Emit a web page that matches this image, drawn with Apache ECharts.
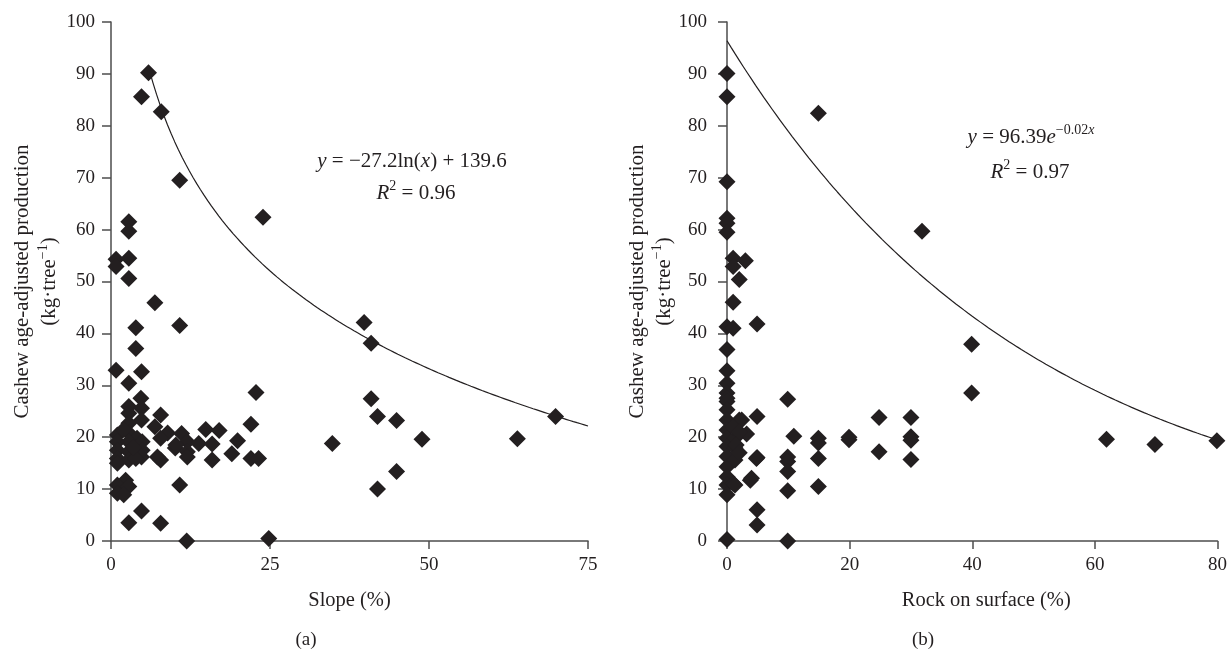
<!DOCTYPE html>
<html>
<head>
<meta charset="utf-8">
<script src="https://cdn.jsdelivr.net/npm/echarts@6/dist/echarts.min.js"></script>
<style>html,body{margin:0;padding:0;background:#fff}#c{width:1230px;height:652px}</style>
</head>
<body>
<div id="c"></div>
<script>
// ---- data ----
var slopeTicks = [0, 25, 50, 75];
var rockTicks = [0, 20, 40, 60, 80];
var yTicks = [0, 10, 20, 30, 40, 50, 60, 70, 80, 90, 100];

var slopeData = [
  [5.9,90.2],[4.8,85.6],[7.9,82.7],[10.8,69.5],[23.9,62.4],[2.8,61.5],[2.8,59.7],[0.8,54.3],[2.8,54.5],[0.8,52.9],
  [2.8,50.6],[6.9,45.9],[3.9,41.1],[10.8,41.5],[3.9,37.1],[0.8,32.9],[4.8,32.6],[2.8,30.4],[4.7,27.5],[22.8,28.6],
  [2.8,25.9],[2.8,24.6],[4.8,25.6],[4.8,23.3],[7.8,24.3],[2.8,22.7],[22.0,22.5],[6.9,22.0],[8.9,20.8],[11.1,20.7],
  [14.9,21.5],[17.0,21.3],[1.0,20.4],[2.8,20.8],[4.1,19.8],[7.8,19.8],[12.0,19.1],[13.8,18.8],[15.9,18.7],[19.9,19.3],
  [34.8,18.8],[1.0,19.1],[2.8,19.1],[4.9,19.1],[10.1,17.9],[10.2,18.5],[12.0,17.2],[1.0,17.5],[2.8,17.2],[4.9,17.5],
  [12.0,16.2],[15.9,15.6],[19.0,16.8],[22.0,15.9],[23.2,15.9],[7.8,15.6],[7.3,16.2],[4.8,16.2],[1.0,15.9],[2.8,15.6],
  [3.9,15.9],[1.0,15.0],[2.3,11.7],[1.0,10.8],[2.8,10.5],[1.0,9.2],[2.0,8.9],[10.8,10.8],[4.8,5.8],[2.8,3.5],
  [7.8,3.4],[11.9,0.0],[24.8,0.5],[39.8,42.1],[40.9,38.1],[40.9,27.4],[41.9,24.0],[44.9,23.2],[48.9,19.6],[63.9,19.7],
  [69.9,24.0],[44.9,13.4],[41.9,10.0],[2.0,21.5],[3.5,18.0]
];

var rockData = [
  [0,90.1],[0,85.6],[0,69.2],[0,62.2],[0,61.2],[0,59.5],[0,41.3],[0,36.9],[0,32.8],[0,30.4],
  [0,28.5],[0,27.5],[0,26.9],[0,25.3],[0,23.3],[0,21.4],[0,19.8],[0,18.2],[0,16.3],[0,14.3],
  [0,12.4],[0,10.8],[0,8.9],[0,0.3],
  [14.9,82.4],[1,54.5],[3,54.0],[1,52.9],[2,50.4],[1,46.0],[1,41.0],[4.9,41.8],[9.9,27.3],[2,23.3],
  [4.9,24.0],[3.2,20.6],[10.9,20.2],[14.9,19.8],[14.9,18.9],[14.9,15.9],[14.9,10.5],[19.9,19.5],[19.9,20.0],[24.8,23.8],
  [24.8,17.2],[9.9,16.2],[9.9,15.3],[9.9,13.4],[9.9,9.7],[4.9,16.1],[3.8,11.7],[4.9,6.0],[4.9,3.1],[9.9,0.0],
  [1,11.1],[31.8,59.7],[39.9,37.9],[39.9,28.5],[30,23.8],[30,20.1],[30,19.4],[30,15.7],[61.9,19.6],[69.8,18.6],
  [79.9,19.3],[1.3,19.8],[1.3,17.9],[4.8,15.9],[1.3,15.6],[4.0,12.1],[1.3,10.8],[2.4,23.3],[1,22.0],[2,21.0],
  [1.5,18.5],[2,17.0]
];

// fitted trend lines as printed on the chart
var logFit = {a: -27.2, b: 139.6, from: 6, to: 75};
var expFit = {a: 96.39, k: -0.02, from: 0, to: 80};

function curve(f, fn, steps) {
  var out = [];
  for (var i = 0; i <= steps; i++) {
    var x = f.from + (f.to - f.from) * i / steps;
    out.push([x, fn(x)]);
  }
  return out;
}
var logLine = curve(logFit, function (x) { return logFit.a * Math.log(x) + logFit.b; }, 120);
var expLine = curve(expFit, function (x) { return expFit.a * Math.exp(expFit.k * x); }, 120);

// ---- chart ----
var FONT = '"Liberation Serif", "DejaVu Serif", serif';
var INK = '#231f20';
var AX = '#4d4d4d';
var chart = echarts.init(document.getElementById('c'), null, {renderer: 'canvas'});

function xAxis(idx, max, interval, name, shift) {
  return {
    type: 'value', gridIndex: idx, min: 0, max: max, interval: interval,
    name: name, nameLocation: 'middle', nameGap: 49,
    nameTextStyle: {fontFamily: FONT, fontSize: 20.5, color: INK, padding: [0, 0, 0, shift]},
    axisLine: {show: true, onZero: false, lineStyle: {color: AX, width: 1.5}},
    axisTick: {show: true, inside: false, length: 8, lineStyle: {color: AX, width: 1.5}},
    axisLabel: {fontFamily: FONT, fontSize: 19, color: INK, margin: 15},
    splitLine: {show: false}
  };
}
function yAxis(idx, margin) {
  return {
    type: 'value', gridIndex: idx, min: 0, max: 100, interval: 10,
    name: '{t|Cashew age-adjusted production}\n{t|(kg·tree}{s|−1}{t|)}',
    nameLocation: 'middle', nameGap: 48, nameRotate: 90,
    nameTextStyle: {
      fontFamily: FONT, fontSize: 21, color: INK, align: 'center',
      rich: {
        t: {fontFamily: FONT, fontSize: 21, color: INK, lineHeight: 27},
        s: {fontFamily: FONT, fontSize: 14, color: INK, lineHeight: 27, verticalAlign: 'top'}
      }
    },
    axisLine: {show: true, onZero: false, lineStyle: {color: AX, width: 1.5}},
    axisTick: {show: true, inside: false, length: 9, lineStyle: {color: AX, width: 1.5}},
    axisLabel: {fontFamily: FONT, fontSize: 19, color: INK, margin: margin},
    splitLine: {show: false}
  };
}

function eqText(x, y, text, rich) {
  return {
    type: 'text', x: x, y: y, silent: true,
    style: {text: text, align: 'center', verticalAlign: 'middle',
      fontFamily: FONT, fontSize: 21, fill: INK, rich: rich}
  };
}
var richEq = {
  n: {fontFamily: FONT, fontSize: 21, color: INK, lineHeight: 28},
  i: {fontFamily: FONT, fontSize: 21, fontStyle: 'italic', color: INK, lineHeight: 28},
  s: {fontFamily: FONT, fontSize: 14, color: INK, lineHeight: 28, verticalAlign: 'top'},
  si: {fontFamily: FONT, fontSize: 14, fontStyle: 'italic', color: INK, lineHeight: 28, verticalAlign: 'top'}
};

var option = {
  backgroundColor: '#ffffff',
  animation: false,
  grid: [
    {left: 111, right: 642, top: 22, bottom: 111, containLabel: false},
    {left: 727, right: 10, top: 22, bottom: 111, containLabel: false}
  ],
  xAxis: [xAxis(0, 75, 25, 'Slope (%)', 0), xAxis(1, 80, 20, 'Rock on surface (%)', 28)],
  yAxis: [yAxis(0, 16), yAxis(1, 20)],
  series: [
    {type: 'line', xAxisIndex: 0, yAxisIndex: 0, data: logLine, showSymbol: false, smooth: false,
      lineStyle: {color: INK, width: 1.2}, z: 1},
    {type: 'scatter', xAxisIndex: 0, yAxisIndex: 0, data: slopeData, symbol: 'diamond', symbolSize: 17,
      itemStyle: {color: INK, opacity: 1}, z: 2},
    {type: 'line', xAxisIndex: 1, yAxisIndex: 1, data: expLine, showSymbol: false, smooth: false,
      lineStyle: {color: INK, width: 1.2}, z: 1},
    {type: 'scatter', xAxisIndex: 1, yAxisIndex: 1, data: rockData, symbol: 'diamond', symbolSize: 17,
      itemStyle: {color: INK, opacity: 1}, z: 2}
  ],
  graphic: [
    eqText(412, 161, '{i|y}{n| = −27.2ln(}{i|x}{n|) + 139.6}', richEq),
    eqText(416, 193, '{i|R}{s|2}{n| = 0.96}', richEq),
    eqText(1031, 137, '{i|y}{n| = 96.39}{i|e}{s|−0.02}{si|x}', richEq),
    eqText(1030, 172, '{i|R}{s|2}{n| = 0.97}', richEq),
    {type: 'text', x: 306, y: 640, silent: true,
      style: {text: '(a)', align: 'center', verticalAlign: 'middle', fontFamily: FONT, fontSize: 19, fill: INK}},
    {type: 'text', x: 923, y: 640, silent: true,
      style: {text: '(b)', align: 'center', verticalAlign: 'middle', fontFamily: FONT, fontSize: 19, fill: INK}}
  ]
};
chart.setOption(option);
</script>
</body>
</html>
